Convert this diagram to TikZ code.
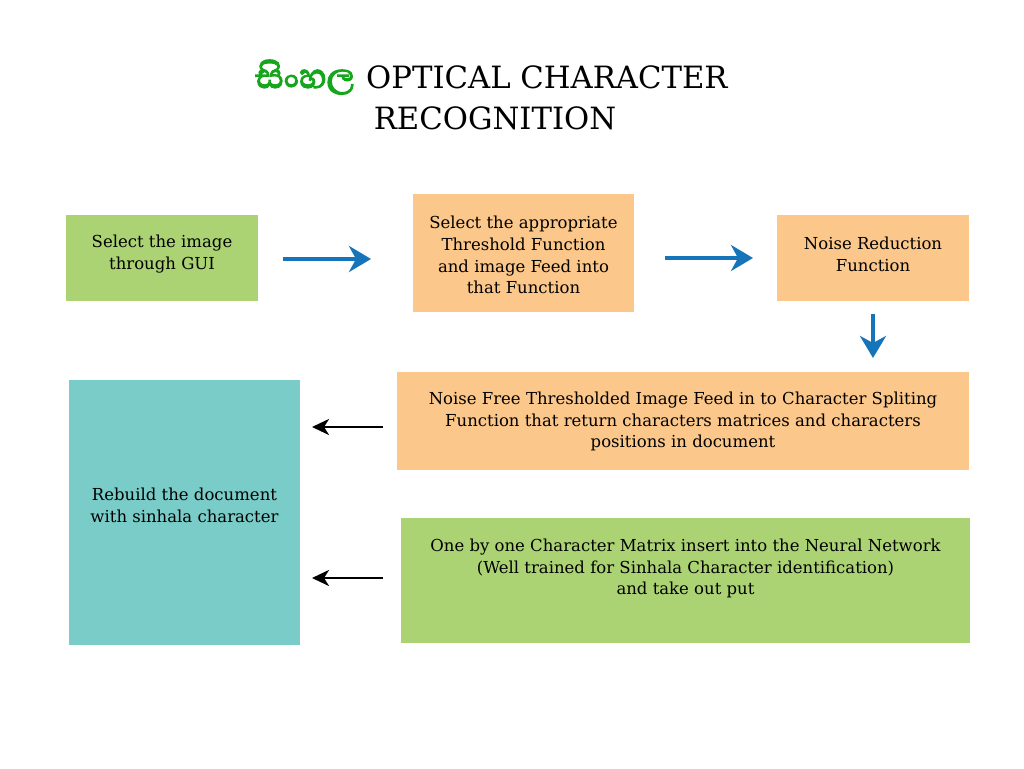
\documentclass[tikz,border=0pt]{standalone}
\usepackage{fontspec}
\setmainfont{DejaVu Serif}
\newfontfamily\sinhalafont[Script=Sinhala,FakeBold=3]{Abhaya Libre}
\usetikzlibrary{arrows.meta}
\definecolor{boxgreen}{RGB}{172,211,115}
\definecolor{boxorange}{RGB}{251,199,138}
\definecolor{boxteal}{RGB}{122,204,200}
\definecolor{arrowblue}{RGB}{22,116,186}
\definecolor{titlegreen}{RGB}{24,165,30}
\begin{document}
\begin{tikzpicture}[x=1pt,y=-1pt,
  box/.style={inner sep=0pt},
  label/.style={inner sep=0pt,align=center,font=\fontsize{16.5}{21.8}\selectfont},
  bluearrow/.style={draw=arrowblue,line width=4.5pt,-{Stealth[length=22pt,width=26pt,inset=7pt]}},
  blackarrow/.style={draw=black,line width=2.8pt,-{Stealth[length=17pt,width=16pt,inset=5pt]}},
  titlefont/.style={font=\fontsize{30.7}{36}\selectfont}
]
\useasboundingbox (0,0) rectangle (1024,768);
% title
\node[anchor=base east,inner sep=0pt,text=titlegreen,font=\sinhalafont\fontsize{44}{48}\selectfont] (sinh) at (355,88) {සිංහල};
\node[anchor=base west,inner sep=0pt,titlefont] (t1) at (366,88) {OPTICAL CHARACTER};
\node[anchor=base,inner sep=0pt,titlefont] (t2) at (495,129) {RECOGNITION};
% boxes
\node[box,fill=boxgreen,minimum width=192pt,minimum height=86pt] (b1) at (162,258) {};
\node[box,fill=boxorange,minimum width=221pt,minimum height=118pt] (b2) at (523.5,253) {};
\node[box,fill=boxorange,minimum width=192pt,minimum height=86pt] (b3) at (873,258) {};
\node[box,fill=boxorange,minimum width=572pt,minimum height=98pt] (b4) at (683,421) {};
\node[box,fill=boxgreen,minimum width=569pt,minimum height=125pt] (b5) at (685.5,580.5) {};
\node[box,fill=boxteal,minimum width=231pt,minimum height=265pt] (b6) at (184.5,512.5) {};
% texts
\node[label] (l1) at (162,254) {Select the image\\through GUI};
\node[label] (l2) at (523.5,255) {Select the appropriate\\Threshold Function\\and image Feed into\\that Function};
\node[label] (l3) at (873,254) {Noise Reduction\\Function};
\node[label] (l4) at (683,421.5) {Noise Free Thresholded Image Feed in to Character Spliting\\Function that return characters matrices and characters\\positions in document};
\node[label] (l5) at (685.5,568.5) {One by one Character Matrix insert into the Neural Network\\(Well trained for Sinhala Character identification)\\and take out put};
\node[label] (l6) at (184.5,505) {Rebuild the document\\with sinhala character};
% arrows
\coordinate (a1s) at (283,259); \coordinate (a1e) at (371,259);
\coordinate (a2s) at (665,258); \coordinate (a2e) at (753,258);
\coordinate (a3s) at (873,314); \coordinate (a3e) at (873,358);
\coordinate (a4s) at (383,427); \coordinate (a4e) at (312,427);
\coordinate (a5s) at (383,578); \coordinate (a5e) at (312,578);
\draw[bluearrow] (a1s) -- (a1e);
\draw[bluearrow] (a2s) -- (a2e);
\draw[bluearrow] (a3s) -- (a3e);
\draw[blackarrow] (a4s) -- (a4e);
\draw[blackarrow] (a5s) -- (a5e);
\end{tikzpicture}
\end{document}
